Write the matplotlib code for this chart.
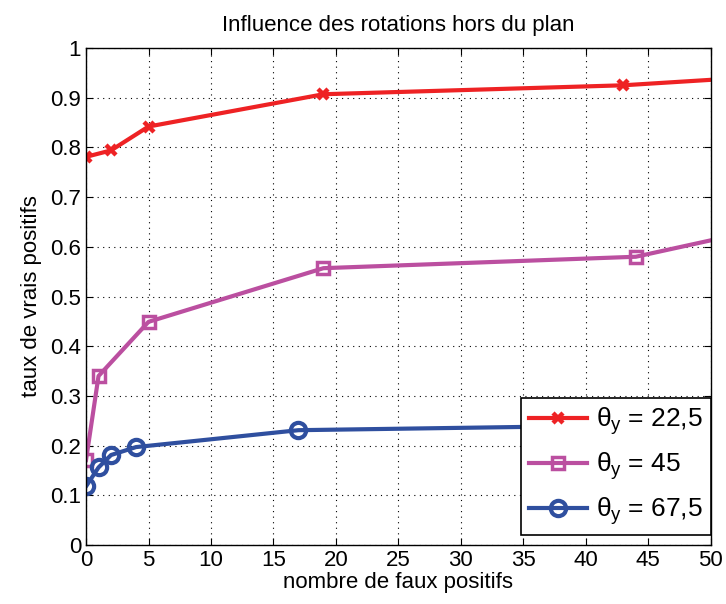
import matplotlib
matplotlib.use("Agg")
import matplotlib.pyplot as plt
from matplotlib.ticker import MultipleLocator, FuncFormatter

plt.rcParams['font.family'] = ['Liberation Sans', 'DejaVu Sans']
plt.rcParams['mathtext.fontset'] = 'custom'
plt.rcParams['mathtext.rm'] = 'Liberation Sans'
plt.rcParams['mathtext.it'] = 'Liberation Sans'

title = "Influence des rotations hors du plan"
xlabel = "nombre de faux positifs"
ylabel = "taux de vrais positifs"

x_22 = [0, 2, 5, 19, 43, 50]
y_22 = [0.781, 0.794, 0.842, 0.907, 0.925, 0.936]
x_45 = [0, 1, 5, 19, 44, 50]
y_45 = [0.171, 0.340, 0.449, 0.557, 0.580, 0.613]
x_67 = [0, 1, 2, 4, 17, 50]
y_67 = [0.118, 0.156, 0.181, 0.197, 0.231, 0.243]
labels = [r'$\theta_{y}$ = 22,5', r'$\theta_{y}$ = 45', r'$\theta_{y}$ = 67,5']

fig = plt.figure(figsize=(7.26, 6.04), dpi=100)
ax = fig.add_axes([0.1185, 0.0977, 0.8605, 0.8228])

lw = 3
ax.plot(x_22, y_22, color='#ee2224', lw=lw, marker='x', ms=7, mew=3.2,
        markevery=list(range(len(x_22) - 1)), label=labels[0])
ax.plot(x_45, y_45, color='#bb4fa0', lw=lw, marker='s', ms=9, mew=2.5,
        mfc='none', markevery=list(range(len(x_45) - 1)), label=labels[1])
ax.plot(x_67, y_67, color='#2f4f9f', lw=lw, marker='o', ms=11, mew=3,
        mfc='none', markevery=list(range(len(x_67) - 1)), label=labels[2])

ax.set_xlim(0, 50)
ax.set_ylim(0, 1)
ax.xaxis.set_major_locator(MultipleLocator(5))
ax.yaxis.set_major_locator(MultipleLocator(0.1))
ax.yaxis.set_major_formatter(FuncFormatter(lambda v, p: f'{round(v, 1):g}'))
ax.grid(True, color='black', linestyle=(0, (1, 4)), linewidth=0.8)
ax.tick_params(direction='in', top=True, right=True, labelsize=16, length=5)
for s in ax.spines.values():
    s.set_linewidth(1.0)

ax.set_title(title, fontsize=16, pad=12)
ax.set_xlabel(xlabel, fontsize=16, labelpad=1)
ax.set_ylabel(ylabel, fontsize=16, labelpad=6)

leg = ax.legend(loc='lower right', bbox_to_anchor=(1.0, 0.02), fontsize=19,
                frameon=True, fancybox=False, edgecolor='black', framealpha=1,
                borderpad=0.3, handlelength=2.2, handletextpad=0.35,
                labelspacing=0.5, borderaxespad=0.0)
leg.get_frame().set_linewidth(1.2)

fig.savefig('out.png', dpi=100)
